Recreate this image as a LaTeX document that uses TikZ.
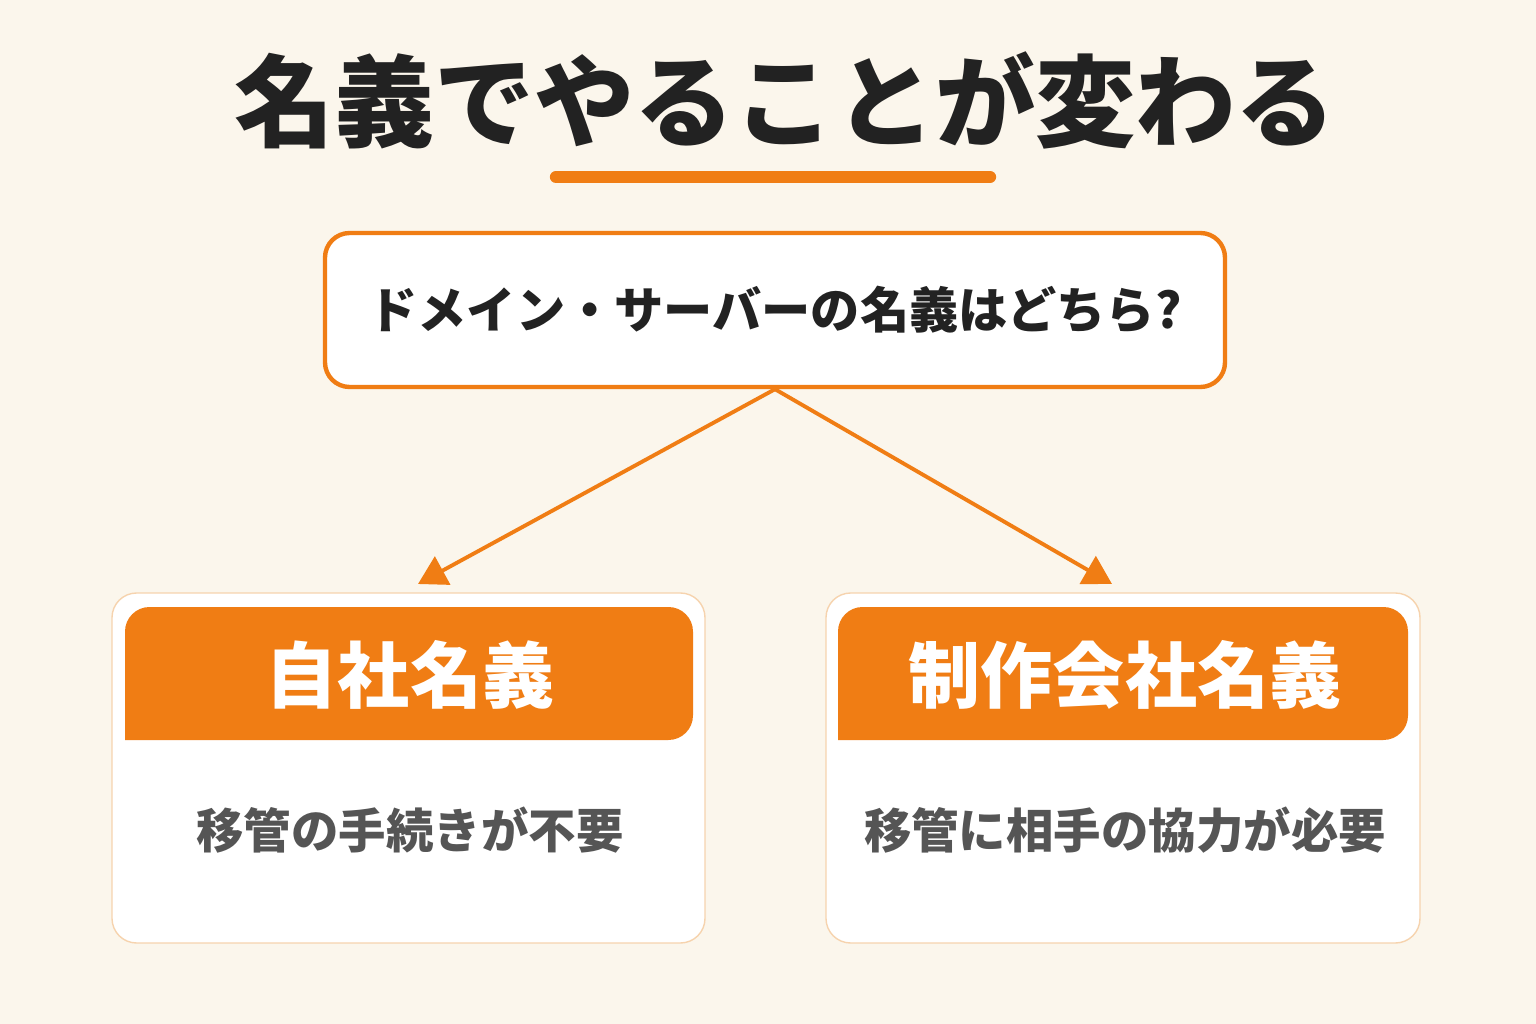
\documentclass[tikz,border=0pt]{standalone}
\usepackage{fontspec}
\setmainfont{Noto Sans CJK JP}
\newfontfamily\jpbold{Noto Sans CJK JP}[BoldFont={* Bold}]
\usetikzlibrary{arrows.meta}
\definecolor{bgcream}{HTML}{FBF6EC}
\definecolor{mainorange}{HTML}{F07D14}
\definecolor{paleorange}{HTML}{F6D3AE}
\definecolor{inkdark}{HTML}{222222}
\definecolor{inkgrey}{HTML}{555555}
\tikzset{
  card/.style={draw=paleorange, line width=0.8pt, fill=white, rounded corners=14pt},
  headtext/.style={text=white, font=\bfseries\fontsize{41}{41}\selectfont},
  bodytext/.style={text=inkgrey, font=\bfseries\fontsize{27}{27}\selectfont},
  branch/.style={draw=mainorange, line width=2.2pt, -{Triangle[length=16pt,width=18pt]}}
}
\begin{document}
\begin{tikzpicture}[x=0.02cm, y=-0.02cm]
\fill[bgcream] (0,0) rectangle (1536,1024);
\useasboundingbox (0,0) rectangle (1536,1024);
% title
\node[text=inkdark, font=\bfseries\fontsize{57}{57}\selectfont] (title) at (785,100) {名義でやることが変わる};
\draw[mainorange, line width=7pt, line cap=round] (556,177) -- (990,177);
% question
\node[draw=mainorange, line width=2.5pt, fill=white, rounded corners=14pt,
  minimum width=900*0.02cm, minimum height=154*0.02cm,
  text=inkdark, font=\bfseries\fontsize{28}{28}\selectfont] (question) at (775,310) {ドメイン・サーバーの名義はどちら?};
% cards
\draw[card] (112,593) rectangle (705,943);
\draw[card] (826,593) rectangle (1420,943);
\fill[mainorange, rounded corners=14pt] (125,740) -- (125,607) -- (693,607) -- (693,740) [sharp corners] -- cycle;
\fill[mainorange, rounded corners=14pt] (838,740) -- (838,607) -- (1408,607) -- (1408,740) [sharp corners] -- cycle;
\node[headtext] (own) at (410,675) {自社名義};
\node[headtext] (agency) at (1125,675) {制作会社名義};
\node[bodytext] (ownbody) at (410,830) {移管の手続きが不要};
\node[bodytext] (agencybody) at (1125,830) {移管に相手の協力が必要};
% branches
\coordinate (leftend) at (418,584);
\coordinate (rightend) at (1112,584);
\draw[branch] (question.south) -- (leftend);
\draw[branch] (question.south) -- (rightend);
\end{tikzpicture}
\end{document}
